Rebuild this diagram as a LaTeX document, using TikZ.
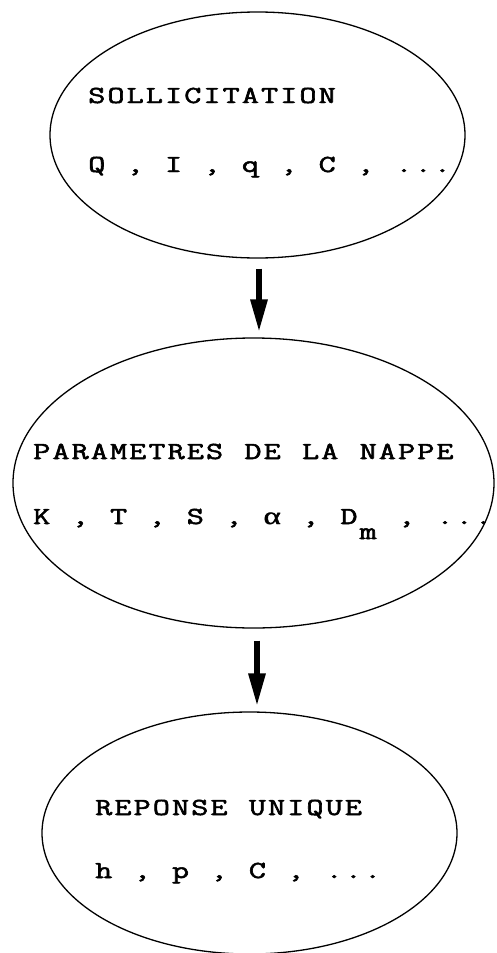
\documentclass[tikz,border=0pt]{standalone}
\usepackage{fontspec}
\newfontfamily\typefont{Latin Modern Mono}[FakeBold=2]
\newfontfamily\greekfont{Liberation Serif}[FakeBold=1.5]
\usetikzlibrary{shapes.geometric,arrows.meta}
\newlength\cellw
\setlength\cellw{19.2pt}
\makeatletter
\def\tcells#1{\tcells@a#1\tcells@end}
\def\tcells@end{\tcells@end}
\def\tcells@a#1{\ifx\tcells@end#1\else\makebox[\cellw][c]{\scalebox{1.35}[1]{#1}}\expandafter\tcells@a\fi}
\makeatother
\tikzset{
  bubble/.style={ellipse, draw, line width=1.3pt, inner sep=0pt},
  txt/.style={anchor=base west, inner sep=0pt, font=\fontsize{24.5}{25}\selectfont\typefont},
  arr/.style={line width=6pt, -{Triangle[length=33pt,width=16pt]}}
}
\begin{document}
\begin{tikzpicture}[x=1pt,y=-1pt]
\useasboundingbox (0,0) rectangle (496,953);
\node[bubble, minimum width=415pt, minimum height=246pt] (e1) at (257.5,135) {};
\node[bubble, minimum width=481pt, minimum height=290pt] (e2) at (253.5,483) {};
\node[bubble, minimum width=415pt, minimum height=242pt] (e3) at (249.5,833) {};
\node[txt] (t1a) at (87,103) {\tcells{SOLLICITATION}};
\node[txt] (t1b) at (87,172) {\tcells{Q~,~I~,~q~,~C~,~...}};
\node[txt] (t2a) at (32,459) {\tcells{PARAMETRES~DE~LA~NAPPE}};
\node[txt] (t2b) at (32,524) {\tcells{K~,~T~,~S~,~{\greekfont α}~,~D{\raisebox{-15pt}{m}}~,~...}};
\node[txt] (t3a) at (94,815) {\tcells{REPONSE~UNIQUE}};
\node[txt] (t3b) at (94,878) {\tcells{h~,~p~,~C~,~...}};
\draw[arr, shorten <=10pt, shorten >=5pt] ([xshift=1.5pt]e1.south) -- ([xshift=1.5pt]e1.south |- e2.north);
\draw[arr, shorten <=12pt, shorten >=5pt] ([xshift=3.5pt]e2.south) -- ([xshift=3.5pt]e2.south |- e3.north);
\end{tikzpicture}
\end{document}
